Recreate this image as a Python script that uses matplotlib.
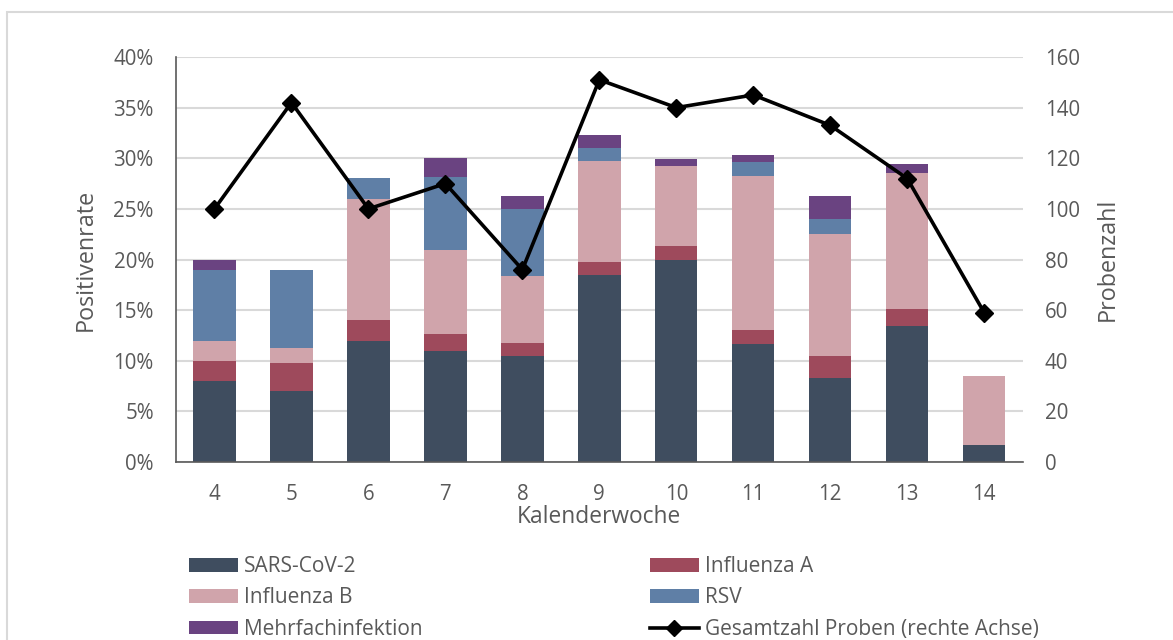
import matplotlib
matplotlib.use("Agg")
import matplotlib.pyplot as plt
from matplotlib.patches import Patch, Rectangle
from matplotlib.lines import Line2D
from matplotlib.ticker import PercentFormatter
import numpy as np

weeks = ["4", "5", "6", "7", "8", "9", "10", "11", "12", "13", "14"]
sars = [8.0, 7.0, 12.0, 11.0, 10.5, 18.5, 20.0, 11.7, 8.25, 13.4, 1.65]
infa = [2.0, 2.8, 2.0, 1.65, 1.3, 1.3, 1.3, 1.3, 2.2, 1.7, 0.0]
infb = [2.0, 1.45, 12.0, 8.3, 6.6, 9.95, 7.9, 15.2, 12.05, 13.4, 6.8]
rsv = [7.0, 7.75, 2.0, 7.2, 6.6, 1.3, 0.0, 1.4, 1.5, 0.0, 0.0]
mehr = [1.0, 0.0, 0.0, 1.85, 1.3, 1.25, 0.75, 0.7, 2.3, 0.9, 0.0]
proben = [100, 142, 100, 110, 76, 151, 140, 145, 133, 112, 59]

series_names = ["SARS-CoV-2", "Influenza A", "Influenza B", "RSV", "Mehrfachinfektion"]
line_name = "Gesamtzahl Proben (rechte Achse)"
colors = ["#3F4D5F", "#9E4A5C", "#D0A4AB", "#5F7FA6", "#6A4381"]
txt = "#595959"
grid = "#D9D9D9"

plt.rcParams["font.family"] = ["Open Sans", "DejaVu Sans"]

fig = plt.figure(figsize=(11.73, 6.4), dpi=100)
ax = fig.add_axes([176 / 1173, 1 - 462 / 640, (1022.7 - 176) / 1173, (462 - 57) / 640])

x = np.arange(len(weeks))
bottom = np.zeros(len(weeks))
for vals, c, name in zip([sars, infa, infb, rsv, mehr], colors, series_names):
    v = np.array(vals) / 100.0
    ax.bar(x, v, width=0.55, bottom=bottom, color=c, label=name, zorder=2, linewidth=0)
    bottom += v

ax.set_xlim(-0.5, len(weeks) - 0.5)
ax.set_ylim(0, 0.40)
ax.set_yticks(np.arange(0, 0.401, 0.05))
ax.yaxis.set_major_formatter(PercentFormatter(1.0, decimals=0))
ax.set_xticks(x)
ax.set_xticklabels(weeks)
ax.grid(axis="y", color=grid, linewidth=1.5, zorder=0)
ax.set_axisbelow(True)
for s in ["top", "right"]:
    ax.spines[s].set_visible(False)
ax.spines["left"].set_color("#595959")
ax.spines["bottom"].set_color("#595959")
ax.spines["left"].set_linewidth(1.2)
ax.spines["bottom"].set_linewidth(1.2)
ax.tick_params(axis="both", length=0, labelsize=14.8, colors=txt)
ax.tick_params(axis="y", pad=16)
ax.tick_params(axis="x", pad=16)
ax.set_ylabel("Positivenrate", fontsize=16.8, color=txt, labelpad=11)
ax.set_xlabel("Kalenderwoche", fontsize=16.4, color=txt, labelpad=0)

ax2 = ax.twinx()
ax2.plot(x, proben, color="black", linewidth=2.6, marker="D", markersize=9, zorder=5)
ax2.set_ylim(0, 160)
ax2.set_yticks(np.arange(0, 161, 20))
for s in ["top", "right", "left", "bottom"]:
    ax2.spines[s].set_visible(False)
ax2.tick_params(axis="y", length=0, labelsize=14.8, colors=txt, pad=16)
ax2.set_ylabel("Probenzahl", fontsize=16.8, color=txt, labelpad=11)

h = [Patch(facecolor=c, edgecolor="none") for c in colors]
hl = Line2D([0], [0], color="black", linewidth=2.6, marker="D", markersize=8)

leg_kw = dict(loc="upper left", frameon=False, fontsize=15, handlelength=2.35,
              handleheight=0.65, handletextpad=0.3, labelspacing=0.5, borderaxespad=0,
              borderpad=0, labelcolor=txt)
leg1 = fig.legend([h[0], h[2], h[4]], [series_names[0], series_names[2], series_names[4]],
                  bbox_to_anchor=(189 / 1173, 1 - 556 / 640), **leg_kw)
leg2 = fig.legend([h[1], h[3], hl], [series_names[1], series_names[3], line_name],
                  bbox_to_anchor=(650 / 1173, 1 - 556 / 640), **leg_kw)

fig.patches.append(Rectangle((7 / 1173, -0.1), 1.2, 1.1 - 12 / 640, transform=fig.transFigure,
                             fill=False, edgecolor=grid, linewidth=1.5, zorder=-1))

fig.savefig("out.png", dpi=100, facecolor="white")
